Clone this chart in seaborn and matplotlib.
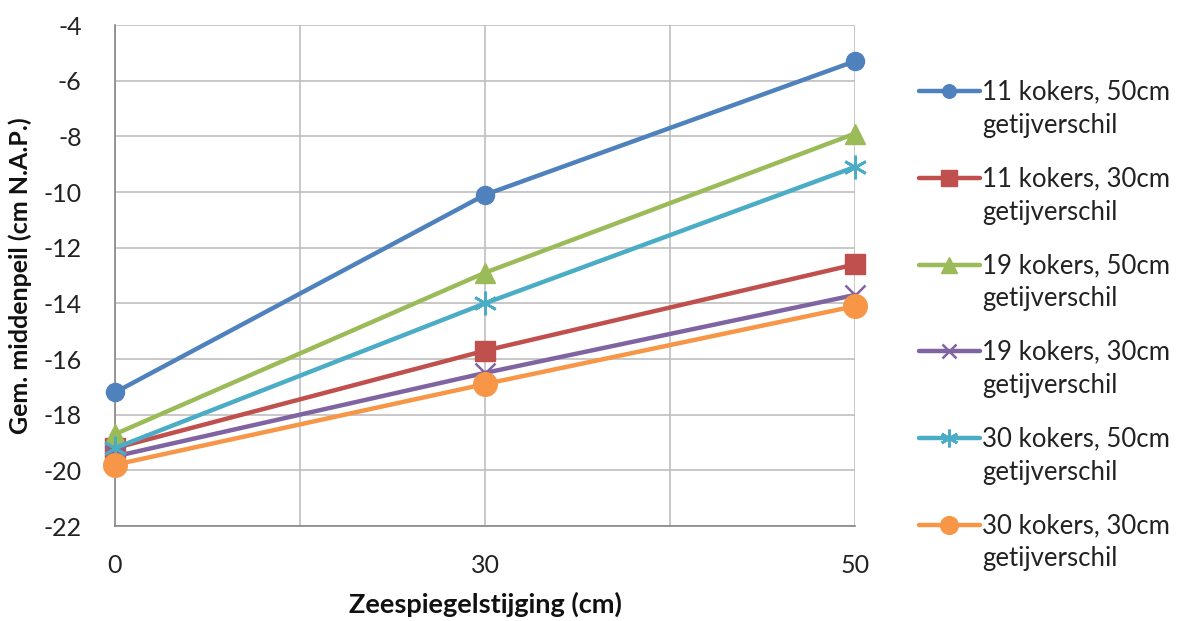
import matplotlib
matplotlib.use("Agg")
import matplotlib.pyplot as plt
import seaborn as sns
import pandas as pd
from matplotlib.lines import Line2D
from matplotlib.legend_handler import HandlerLine2D

# Sea level rise scenarios (cm) on a categorical axis
categories = ["0", "30", "50"]

# Mean water level (cm N.A.P.) per configuration
s_11_50 = [-17.2, -10.1, -5.3]
s_11_30 = [-19.2, -15.7, -12.6]
s_19_50 = [-18.7, -12.9, -7.9]
s_19_30 = [-19.5, -16.5, -13.7]
s_30_50 = [-19.2, -14.0, -9.1]
s_30_30 = [-19.8, -16.9, -14.1]

labels = [
    "11 kokers, 50cm\ngetijverschil",
    "11 kokers, 30cm\ngetijverschil",
    "19 kokers, 50cm\ngetijverschil",
    "19 kokers, 30cm\ngetijverschil",
    "30 kokers, 50cm\ngetijverschil",
    "30 kokers, 30cm\ngetijverschil",
]
series = [s_11_50, s_11_30, s_19_50, s_19_30, s_30_50, s_30_30]

colors = ["#4F81BD", "#C0504D", "#9BBB59", "#8064A2", "#4BACC6", "#F79646"]
markers = ["o", "s", "^", "x", (6, 2, 0), "o"]
msizes = [13, 15, 15, 14, 17, 17]
mews = [1, 1, 1, 1.8, 2, 1]


class FirstLineHandler(HandlerLine2D):
    """Legend line handle aligned with the first line of a two-line label."""

    def __init__(self, shift, **kw):
        super().__init__(**kw)
        self.shift = shift

    def create_artists(self, legend, orig_handle, xdescent, ydescent,
                       width, height, fontsize, trans):
        artists = super().create_artists(legend, orig_handle, xdescent,
                                         ydescent, width, height, fontsize,
                                         trans)
        for a in artists:
            a.set_ydata([y + self.shift * fontsize for y in a.get_ydata()])
        return artists


sns.set_style("white")
plt.rcParams["font.family"] = ["Lato", "DejaVu Sans"]

fig = plt.figure(figsize=(11.78, 6.21), dpi=100)
ax = fig.add_axes([115 / 1178, 1 - 526 / 621, 740 / 1178, 501 / 621])

pos = list(range(len(categories)))
handles = []
for vals, lab, c, m, ms, mew in zip(series, labels, colors, markers, msizes, mews):
    df = pd.DataFrame({"x": pos, "y": vals})
    sns.lineplot(data=df, x="x", y="y", ax=ax, color=c, linewidth=3.2,
                 marker=m, markersize=ms, markeredgewidth=mew,
                 markeredgecolor=c, markerfacecolor=c, zorder=3,
                 clip_on=False)
    handles.append(Line2D([], [], color=c, linewidth=3.2, marker=m,
                          markersize=ms * 0.75, markeredgewidth=mew,
                          markeredgecolor=c, markerfacecolor=c))

ax.set_xlim(0, len(categories) - 1)
ax.set_ylim(-22, -4)
ax.set_yticks(range(-22, -3, 2))
ax.set_yticklabels([str(v) for v in range(-22, -3, 2)])
ax.set_xticks(pos)
ax.set_xticklabels(categories)
ax.set_xticks([0.5, 1.5], minor=True)

ax.grid(True, which="both", color="#BFBFBF", linewidth=1.2, zorder=0)
ax.set_axisbelow(True)
for side in ["top", "right"]:
    ax.spines[side].set_visible(False)
for side in ["left", "bottom"]:
    ax.spines[side].set_color("#868686")
    ax.spines[side].set_linewidth(1.2)

ax.tick_params(axis="y", which="major", length=8, width=1.2, color="#868686",
               labelsize=18, pad=16, labelcolor="#222222")
ax.tick_params(axis="x", which="both", length=0, labelsize=18, pad=20,
               labelcolor="#222222")

ax.set_xlabel("Zeespiegelstijging (cm)", fontsize=19.5, fontweight="bold",
              labelpad=11, color="#111111")
ax.set_ylabel("Gem. middenpeil (cm N.A.P.)", fontsize=18, fontweight="bold",
              labelpad=8, color="#111111")

handler_map = {h: FirstLineHandler(0.72) for h in handles}
leg = fig.legend(handles, labels, loc="center left",
                 bbox_to_anchor=(909 / 1178, 0.476), frameon=False,
                 handlelength=2.35, handletextpad=0.1, labelspacing=1.1,
                 borderaxespad=0, labelcolor="#222222",
                 handler_map=handler_map, prop={"size": 18.5})
for t in leg.get_texts():
    t.set_linespacing(1.42)

fig.savefig("out.png", dpi=100)
